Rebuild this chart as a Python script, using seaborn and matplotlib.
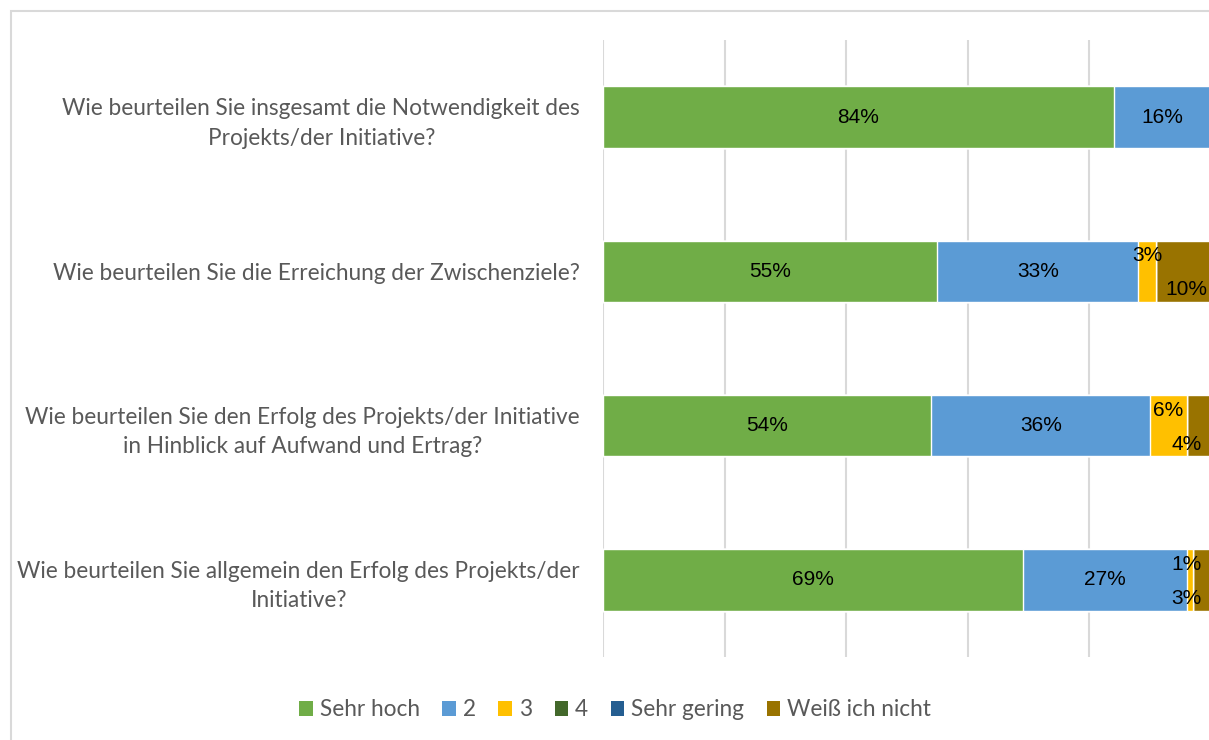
import matplotlib
matplotlib.use("Agg")
import matplotlib.pyplot as plt
import seaborn as sns
import numpy as np
from matplotlib.patches import Rectangle, Patch

categories = [
    "Wie beurteilen Sie insgesamt die Notwendigkeit des\nProjekts/der Initiative?",
    "Wie beurteilen Sie die Erreichung der Zwischenziele?",
    "Wie beurteilen Sie den Erfolg des Projekts/der Initiative\nin Hinblick auf Aufwand und Ertrag?",
    "Wie beurteilen Sie allgemein den Erfolg des Projekts/der\nInitiative?",
]
series_names = ["Sehr hoch", "2", "3", "4", "Sehr gering", "Weiß ich nicht"]
sehr_hoch = [84, 55, 54, 69]
zwei = [16, 33, 36, 27]
drei = [0, 3, 6, 1]
vier = [0, 0, 0, 0]
sehr_gering = [0, 0, 0, 0]
weiss_nicht = [0, 10, 4, 3]
colors = ["#70AD47", "#5B9BD5", "#FFC000", "#43682B", "#255E91", "#997300"]

series = [sehr_hoch, zwei, drei, vier, sehr_gering, weiss_nicht]

sns.set_theme(style="white")
plt.rcParams["font.family"] = ["Lato", "DejaVu Sans"]

W, H = 1209, 740
fig = plt.figure(figsize=(W / 100, H / 100), dpi=100)
ax = fig.add_axes([603 / W, 1 - 657 / H, 608 / W, (657 - 40) / H])

vals = np.array(series, dtype=float)
cum = np.cumsum(vals, axis=0)

for i in range(len(series) - 1, -1, -1):
    sns.barplot(x=cum[i], y=categories, color=colors[i], width=0.4,
                orient="h", ax=ax, saturation=1, zorder=3)

ax.set_xlim(0, 100)
ax.set_ylim(3.5, -0.5)
ax.set_xticks([0, 20, 40, 60, 80, 100])
ax.xaxis.grid(True, color="#D9D9D9", linewidth=1.5, zorder=0)
ax.set_axisbelow(True)
ax.tick_params(axis="x", labelbottom=False, length=0)
ax.tick_params(axis="y", length=0, pad=16.5, labelsize=16.3, labelcolor="#595959")
for lab in ax.get_yticklabels():
    lab.set_multialignment("center")
    lab.set_linespacing(1.5)
for s in ax.spines.values():
    s.set_visible(False)
ax.set_xlabel("")
ax.set_ylabel("")

# data labels
for j in range(len(categories)):
    small_count = 0
    for i in range(len(series)):
        v = vals[i, j]
        if v <= 0:
            continue
        left = cum[i, j] - v
        xc = min(left + v / 2, 96.0)
        yc = j
        if i >= 2:
            yc = j - 0.1 if small_count % 2 == 0 else j + 0.12
            small_count += 1
        ax.text(xc, yc, f"{int(v)}%", ha="center", va="center", fontsize=15,
                color="black", family=["Liberation Sans", "DejaVu Sans"], zorder=5)

handles = [Patch(facecolor=c, edgecolor="none") for c in colors]
leg = fig.legend(handles, series_names, loc="center", bbox_to_anchor=(615 / W, 1 - 710 / H),
                 ncol=6, frameon=False, fontsize=16.3, handlelength=0.6, handleheight=0.6,
                 handletextpad=0.3, columnspacing=1.0)
for t in leg.get_texts():
    t.set_color("#595959")

border = Rectangle((10.5 / W, -0.2), 2, 1.2 - 10.5 / H, transform=fig.transFigure,
                   fill=False, edgecolor="#D9D9D9", linewidth=1.5, clip_on=False)
fig.patches.append(border)

fig.savefig("out.png", dpi=100)
